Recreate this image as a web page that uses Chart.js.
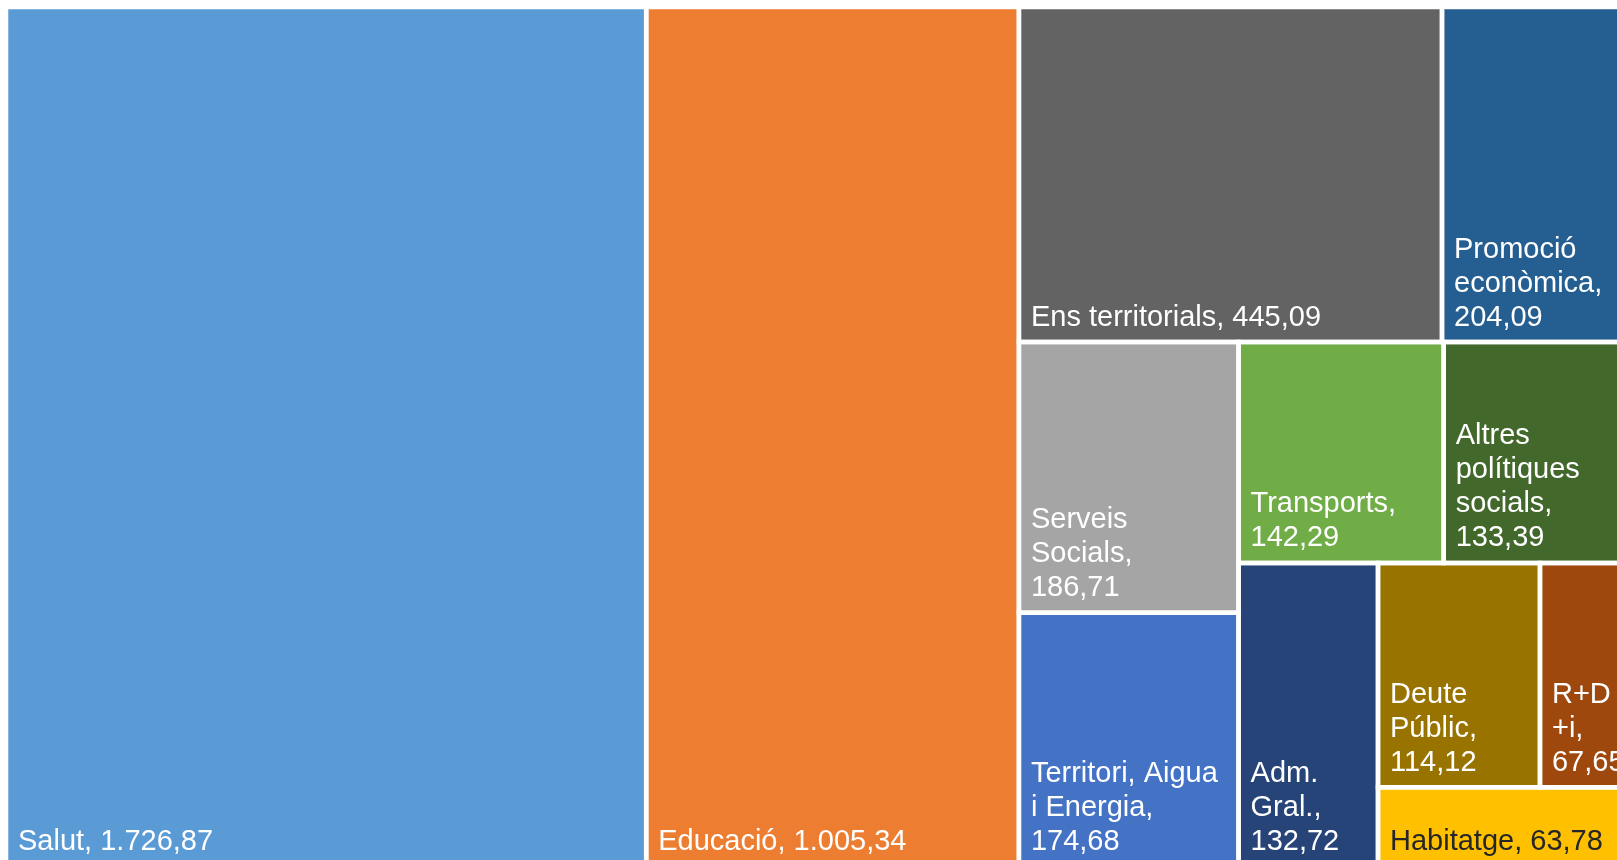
<!DOCTYPE html>
<html>
<head>
<meta charset="utf-8">
<script src="https://cdn.jsdelivr.net/npm/chart.js@4/dist/chart.umd.min.js"></script>
<style>
  html, body { margin: 0; padding: 0; background: #fff; }
  #wrap { width: 1617px; height: 860px; position: relative; }
</style>
</head>
<body>
<div id="wrap"><canvas id="chart-treemap"></canvas></div>
<script>
// ── Data (sorted by value, as the treemap lays them out) ──────────────────────
const categories = [
  'Salut', 'Educació', 'Ens territorials', 'Promoció econòmica',
  'Serveis Socials', 'Territori, Aigua i Energia', 'Transports',
  'Altres polítiques socials', 'Adm. Gral.', 'Deute Públic', 'R+D+i', 'Habitatge',
];
const values = [
  1726.87, 1005.34, 445.09, 204.09,
  186.71, 174.68, 142.29,
  133.39, 132.72, 114.12, 67.65, 63.78,
];
// how many cells go in each strip of the layout
const stripSizes = [1, 1, 2, 2, 2, 1, 2, 1];

// Office palette, in the same order as categories
const colors = [
  '#5B9BD5', '#ED7D31', '#636363', '#255E91',
  '#A5A5A5', '#4472C4', '#70AD47',
  '#43682B', '#264478', '#997300', '#9E480E', '#FFC000',
];

// ── Layout constants ─────────────────────────────────────────────────────────
const TREE_W = 1630;   // full treemap extent (units = px), a bit wider than the view
const TREE_H = 859;
const VIEW_W = 1611;
const VIEW_H = 853;
const FONT = { family: "Arial, 'Liberation Sans', sans-serif", size: 29 };
const LINE_H = 34;
const PAD_X = 12;
const PAD_BOTTOM = 16.5;

const _sum = (arr) => arr.reduce((a, b) => a + b, 0);

// Strip layout: each strip runs along the shorter side of the space left
function layoutCells(vals, strips, w, h) {
  let area = { x: 0, y: 0, w, h };
  let remaining = _sum(vals);
  const rects = [];
  let i = 0;
  strips.forEach(n => {
    const part = vals.slice(i, i + n);
    const partSum = _sum(part);
    const frac = partSum / remaining;
    if (area.w >= area.h) {
      const cw = area.w * frac;
      let y = area.y;
      part.forEach(v => {
        const ch = area.h * v / partSum;
        rects.push({ x0: area.x, x1: area.x + cw, y0: y, y1: y + ch });
        y += ch;
      });
      area = { x: area.x + cw, y: area.y, w: area.w - cw, h: area.h };
    } else {
      const rh = area.h * frac;
      let x = area.x;
      part.forEach(v => {
        const cw = area.w * v / partSum;
        rects.push({ x0: x, x1: x + cw, y0: area.y, y1: area.y + rh });
        x += cw;
      });
      area = { x: area.x, y: area.y + rh, w: area.w, h: area.h - rh };
    }
    remaining -= partSum;
    i += n;
  });
  return rects;
}

function _rectPoints(r) {
  return [
    { x: r.x0, y: r.y0 }, { x: r.x1, y: r.y0 }, { x: r.x1, y: r.y1 },
    { x: r.x0, y: r.y1 }, { x: r.x0, y: r.y0 },
  ];
}

// 1.726,87 style
function fmt(v) {
  const [int, dec] = v.toFixed(2).split('.');
  return int.replace(/\B(?=(\d{3})+(?!\d))/g, '.') + ',' + dec;
}

function _isLight(hex) {
  const n = parseInt(hex.slice(1), 16);
  const r = n >> 16, g = (n >> 8) & 255, b = n & 255;
  return 0.299 * r + 0.587 * g + 0.114 * b > 175;
}

// greedy wrap on spaces; overlong words may break before '+'
function wrapText(ctx, text, maxW) {
  const words = [];
  text.split(' ').forEach(w => {
    if (ctx.measureText(w).width > maxW && w.indexOf('+') > 0) {
      w.split(/(?=\+)/).forEach((p, k) => words.push({ t: p, glue: k > 0 ? '' : ' ' }));
    } else {
      words.push({ t: w, glue: ' ' });
    }
  });
  const lines = [];
  let cur = '';
  words.forEach(({ t, glue }) => {
    if (!cur) { cur = t; return; }
    const test = cur + glue + t;
    if (ctx.measureText(test).width <= maxW) cur = test;
    else { lines.push(cur); cur = t; }
  });
  if (cur) lines.push(cur);
  return lines;
}

const rects = layoutCells(values, stripSizes, TREE_W, TREE_H);

const cellLabels = {
  id: 'cellLabels',
  afterDatasetsDraw(chart) {
    const { ctx, chartArea, scales: { x, y } } = chart;
    ctx.save();
    ctx.beginPath();
    ctx.rect(chartArea.left, chartArea.top, chartArea.right - chartArea.left, chartArea.bottom - chartArea.top);
    ctx.clip();
    ctx.font = `${FONT.size}px ${FONT.family}`;
    ctx.textAlign = 'left';
    ctx.textBaseline = 'alphabetic';
    rects.forEach((r, i) => {
      const left = x.getPixelForValue(r.x0);
      const right = x.getPixelForValue(r.x1);
      const bottom = y.getPixelForValue(r.y1);
      const lines = wrapText(ctx, `${categories[i]}, ${fmt(values[i])}`, right - left - 2 * PAD_X);
      ctx.fillStyle = _isLight(colors[i]) ? '#262626' : '#ffffff';
      lines.forEach((ln, k) => {
        const yy = bottom - PAD_BOTTOM - (lines.length - 1 - k) * LINE_H;
        ctx.fillText(ln, left + PAD_X, yy);
      });
    });
    ctx.restore();
  },
};

const datasets = categories.map((c, i) => ({
  label: c,
  data: _rectPoints(rects[i]),
  backgroundColor: colors[i],
  borderColor: '#ffffff',
  borderWidth: 4.5,
  borderJoinStyle: 'miter',
  borderCapStyle: 'square',
  fill: 'shape',
  pointRadius: 0,
  pointHoverRadius: 0,
  tension: 0,
}));

new Chart(document.getElementById('chart-treemap').getContext('2d'), {
  type: 'line',
  data: { datasets },
  options: {
    responsive: true,
    maintainAspectRatio: false,
    animation: false,
    events: [],
    layout: { padding: { left: 6, top: 7, right: 0, bottom: 0 } },
    plugins: {
      legend: { display: false },
      tooltip: { enabled: false },
      filler: { drawTime: 'beforeDatasetsDraw' },
    },
    scales: {
      x: { type: 'linear', min: 0, max: VIEW_W, display: false },
      y: { type: 'linear', min: 0, max: VIEW_H, reverse: true, display: false },
    },
  },
  plugins: [cellLabels],
});
</script>
</body>
</html>
